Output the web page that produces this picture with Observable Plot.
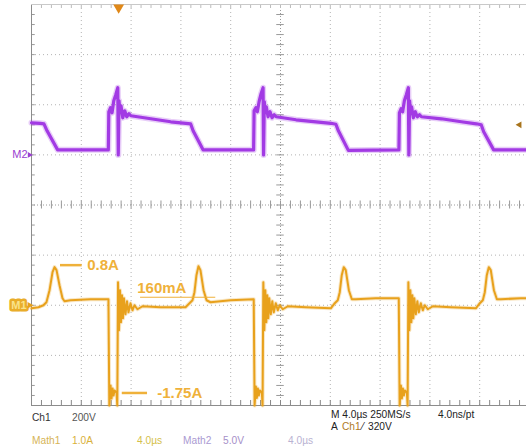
<!DOCTYPE html>
<html><head><meta charset="utf-8">
<script src="https://cdn.jsdelivr.net/npm/d3@7"></script>
<script src="https://cdn.jsdelivr.net/npm/@observablehq/plot@0.6"></script>
<style>
html,body{margin:0;padding:0;background:#fff;}
#wrap{position:relative;width:526px;height:446px;overflow:hidden;font-family:"Liberation Sans",Arial,sans-serif;}
#chart svg{display:block;overflow:visible;}
#readout{position:relative;height:38px;font-size:10.2px;}
#readout span{position:absolute;white-space:nowrap;line-height:12px;}
</style></head><body>
<div id="wrap"><div id="chart"></div>
<div id="readout">
<span style="left:32px;top:4px;color:#333">Ch1</span>
<span style="left:72px;top:4px;color:#555">200V</span>
<span style="left:331px;top:1px;color:#222">M 4.0µs 250MS/s</span>
<span style="left:438px;top:1px;color:#222">4.0ns/pt</span>
<span style="left:331px;top:13px;color:#222">A</span>
<span style="left:342px;top:13px;color:#b07a24">Ch1</span>
<span style="left:362px;top:13px;color:#222">⁄</span>
<span style="left:368px;top:13px;color:#222">320V</span>
<span style="left:32px;top:27px;color:#d6b457">Math1</span>
<span style="left:72px;top:27px;color:#d9b13a">1.0A</span>
<span style="left:137px;top:27px;color:#d4c04a">4.0µs</span>
<span style="left:183px;top:27px;color:#aa9ad2">Math2</span>
<span style="left:223px;top:27px;color:#a690c8">5.0V</span>
<span style="left:288px;top:27px;color:#b9b2d2">4.0µs</span>
</div></div>
<script>
// time base and channel settings
const timePerDiv = 4;          // µs per division
const m1Scale = 1.0;           // A per division (Math1)
const m1Offset = -2;           // divisions
const m2Scale = 5.0;           // V per division (Math2)
const m2Offset = 1;            // divisions
const ch1Scale = 200;          // V per division
const trigLevel = 320;         // V
const trigTime = 7.0;          // µs

// Math2 (purple) trace: time µs, value V
const m2Time = [0, 0.7, 1.0, 1.25, 2.1,
  6.17, 6.21, 6.35, 6.47, 6.61, 6.77, 6.93, 6.97, 7.03, 7.11, 7.19, 7.33, 7.49, 7.65, 7.83, 7.98, 9.58, 11.18, 12.39, 12.78, 12.98, 13.78,
  17.84, 17.88, 18.02, 18.14, 18.28, 18.44, 18.60, 18.64, 18.70, 18.78, 18.86, 19.00, 19.16, 19.32, 19.50, 19.65, 21.25, 22.85, 24.06, 24.45, 24.65, 25.45,
  29.51, 29.55, 29.69, 29.81, 29.95, 30.11, 30.27, 30.31, 30.37, 30.45, 30.53, 30.67, 30.83, 30.99, 31.17, 31.32, 32.92, 34.52, 35.73, 36.12, 36.32, 37.12, 40];
const m2Volt = [3.2, 3.15, 3.1, 2.4, 0.5,
  0.5, 4.3, 4.7, 4.2, 5.4, 6.0, 6.7, 0.0, 5.4, 4.2, 4.9, 3.7, 4.4, 3.8, 4.1, 3.9, 3.6, 3.3, 3.15, 3.1, 2.4, 0.5,
  0.5, 4.4, 4.7, 4.3, 5.3, 6.1, 6.7, 0.0, 5.3, 4.2, 4.8, 3.8, 4.3, 3.7, 4.0, 3.8, 3.5, 3.3, 3.15, 3.05, 2.4, 0.45,
  0.5, 4.2, 4.6, 4.3, 5.4, 6.0, 6.7, 0.0, 5.4, 4.1, 4.8, 3.7, 4.3, 3.8, 4.0, 3.8, 3.6, 3.3, 3.1, 3.0, 2.3, 0.5, 0.5];

// Math1 (orange) trace: time µs, value A
const m1Time = [0, 0.56, 0.96, 1.2, 1.45, 1.69, 1.85, 2.01, 2.25, 2.49, 2.65, 3.13, 4.74,
  6.18, 6.25, 6.35, 6.43, 6.51, 6.59, 6.67, 6.83, 6.89, 6.95, 7.03, 7.11, 7.19, 7.27, 7.35, 7.43, 7.55, 7.67, 7.79, 7.95, 8.11, 8.27, 8.51, 8.92, 10.36, 12.37, 12.69, 12.93, 13.09, 13.25, 13.41, 13.57, 13.82, 14.06, 14.38, 15.98,
  17.85, 17.92, 18.02, 18.10, 18.18, 18.26, 18.34, 18.50, 18.56, 18.62, 18.70, 18.78, 18.86, 18.94, 19.02, 19.10, 19.22, 19.34, 19.46, 19.62, 19.78, 19.94, 20.18, 20.59, 22.03, 24.04, 24.36, 24.60, 24.76, 24.92, 25.08, 25.24, 25.49, 25.73, 26.05, 27.65,
  29.50, 29.57, 29.67, 29.75, 29.83, 29.91, 29.99, 30.15, 30.21, 30.27, 30.35, 30.43, 30.51, 30.59, 30.67, 30.75, 30.87, 30.99, 31.11, 31.27, 31.43, 31.59, 31.83, 32.24, 33.68, 35.69, 36.01, 36.25, 36.41, 36.57, 36.73, 36.89, 37.14, 37.38, 37.70, 39.3, 40];
const m1Amp = [-0.06, -0.04, 0.0, 0.06, 0.3, 0.66, 0.76, 0.7, 0.4, 0.14, 0.08, 0.1, 0.12,
  0.12, -2.0, -1.6, -1.86, -1.66, -1.8, -1.7, -1.74, -2.0, 0.46, -0.5, 0.3, -0.34, 0.2, -0.26, 0.14, -0.18, 0.08, -0.14, 0.04, -0.1, 0.0, -0.08, -0.02, -0.04, -0.04, 0.04, 0.1, 0.26, 0.6, 0.78, 0.7, 0.3, 0.1, 0.06, 0.1,
  0.12, -2.0, -1.62, -1.85, -1.66, -1.8, -1.7, -1.74, -2.0, 0.46, -0.5, 0.3, -0.34, 0.2, -0.26, 0.14, -0.18, 0.08, -0.14, 0.04, -0.1, 0.0, -0.08, -0.02, -0.04, -0.06, 0.04, 0.1, 0.26, 0.6, 0.76, 0.7, 0.3, 0.12, 0.12, 0.14,
  0.14, -2.0, -1.6, -1.86, -1.66, -1.8, -1.7, -1.74, -2.0, 0.46, -0.5, 0.3, -0.34, 0.2, -0.26, 0.14, -0.18, 0.08, -0.14, 0.04, -0.1, 0.0, -0.08, -0.02, -0.04, -0.06, 0.04, 0.1, 0.26, 0.6, 0.76, 0.7, 0.3, 0.12, 0.12, 0.14, 0.14];

// annotations
const annLabel = ["0.8A", "160mA", "-1.75A"];
const annLevel = [0.8, 0.16, -1.75];
const annLineStart = [2.33, 8.76, 7.29];
const annLineEnd = [4.07, 14.8, 9.32];
const annTextTime = [4.47, 8.49, 10.1];

const m1 = m1Time.map((t, i) => ({t, v: m1Amp[i]}));
const m2 = m2Time.map((t, i) => ({t, v: m2Volt[i]}));
const ann = annLabel.map((label, i) => ({label, level: annLevel[i], t1: annLineStart[i], t2: annLineEnd[i], tt: annTextTime[i]}));
const m1y = v => m1Offset + v / m1Scale;
const m2y = v => m2Offset + v / m2Scale;

const xMajor = d3.range(0, 10 * timePerDiv + 0.01, timePerDiv);
const yMajor = d3.range(-4, 4.01, 1);
const xMinor = d3.range(0, 10 * timePerDiv + 0.01, timePerDiv / 5);
const yMinor = d3.range(-4, 4.01, 0.2);
const xCenter = 5 * timePerDiv;

const gold = "#efb13a", orange = "#e8a11c", purple = "#a23ae4";
const font = "Liberation Sans, Arial, sans-serif";

const chart = Plot.plot({
  width: 526, height: 408,
  marginTop: 4, marginBottom: 3, marginLeft: 31, marginRight: 0,
  x: {domain: [0, 10 * timePerDiv], range: [31, 529], axis: null},
  y: {domain: [-4, 4], range: [405, 4], axis: null},
  style: {background: "#fff"},
  marks: [
    Plot.ruleX(xMajor.filter(d => d > 0 && d !== xCenter), {x: d => d, stroke: "#b3b3b3", strokeDasharray: "1,3"}),
    Plot.ruleY(yMajor.filter(d => d > -4 && d < 4 && d !== 0), {y: d => d, stroke: "#b3b3b3", strokeDasharray: "1,3"}),
    Plot.ruleX([xCenter], {x: d => d, stroke: "#9a9a9a", strokeDasharray: "1,2"}),
    Plot.ruleY([0], {y: d => d, stroke: "#9a9a9a", strokeDasharray: "1,2"}),
    Plot.ruleX(xMinor, {x: d => d, y1: -0.08, y2: 0.08, stroke: "#999"}),
    Plot.ruleY(yMinor, {y: d => d, x1: xCenter - 0.3, x2: xCenter + 0.3, stroke: "#999"}),
    Plot.ruleX(xMinor, {x: d => d, y1: -4, y2: -3.9, stroke: "#888"}),
    Plot.ruleX(xMinor, {x: d => d, y1: 4, y2: 3.92, stroke: "#bbb"}),
    Plot.ruleY(yMinor, {y: d => d, x1: 0, x2: 0.3, stroke: "#999"}),
    Plot.ruleX([0], {x: d => d, stroke: "#8c8c8c"}),
    Plot.ruleY([-4], {y: d => d, stroke: "#8c8c8c"}),
    Plot.ruleY([4], {y: d => d, stroke: "#c9c9c9"}),
    // traces
    Plot.line(m2, {x: "t", y: d => m2y(d.v), stroke: purple, strokeWidth: 6, strokeOpacity: 0.25}),
    Plot.line(m2, {x: "t", y: d => m2y(d.v), stroke: purple, strokeWidth: 3.2}),
    Plot.line(m1, {x: "t", y: d => m1y(d.v), stroke: orange, strokeWidth: 4, strokeOpacity: 0.25}),
    Plot.line(m1, {x: "t", y: d => m1y(d.v), stroke: orange, strokeWidth: 2}),
    // annotations
    Plot.ruleY(ann.filter((d, i) => i !== 1), {y: d => m1y(d.level), x1: "t1", x2: "t2", stroke: gold, strokeWidth: 2.5}),
    Plot.ruleY(ann.filter((d, i) => i === 1), {y: d => m1y(d.level), x1: "t1", x2: "t2", stroke: gold, strokeWidth: 1.2}),
    Plot.text(ann.filter((d, i) => i !== 1), {x: "tt", y: d => m1y(d.level), text: "label", textAnchor: "start", lineAnchor: "middle", fill: gold, fontSize: 15, fontWeight: "bold", fontFamily: font}),
    Plot.text(ann.filter((d, i) => i === 1), {x: "tt", y: d => m1y(d.level), text: "label", textAnchor: "start", lineAnchor: "middle", dy: -9, fill: gold, fontSize: 15, fontWeight: "bold", fontFamily: font}),
    // channel markers
    Plot.text([m2Offset], {frameAnchor: "left", y: d => d, text: () => "M2", textAnchor: "end", dx: -4, fill: "#9a40d0", fontSize: 11, fontFamily: font}),
    Plot.dot([m2Offset], {frameAnchor: "left", y: d => d, symbol: "triangle", rotate: 90, r: 2.2, dx: -2, fill: "#9a40d0"}),
    Plot.text([m1Offset], {frameAnchor: "left", y: d => d, text: () => "M1", textAnchor: "end", dx: -5, fill: "#f9e38a", stroke: "#e9ad2a", strokeWidth: 5, fontSize: 11, fontWeight: "bold", fontFamily: font}),
    Plot.dot([m1Offset], {frameAnchor: "left", y: d => d, symbol: "triangle", rotate: 90, r: 2.5, dx: -2, fill: orange}),
    Plot.dot([trigTime], {x: d => d, frameAnchor: "top", symbol: "triangle", rotate: 180, r: 4, dy: 3, fill: "#e08818"}),
    Plot.dot([trigLevel / ch1Scale], {frameAnchor: "right", y: d => d, symbol: "triangle", rotate: -90, r: 2.5, dx: -7, fill: "#a8741c"})
  ]
});
document.getElementById("chart").appendChild(chart);
</script>
</body></html>
